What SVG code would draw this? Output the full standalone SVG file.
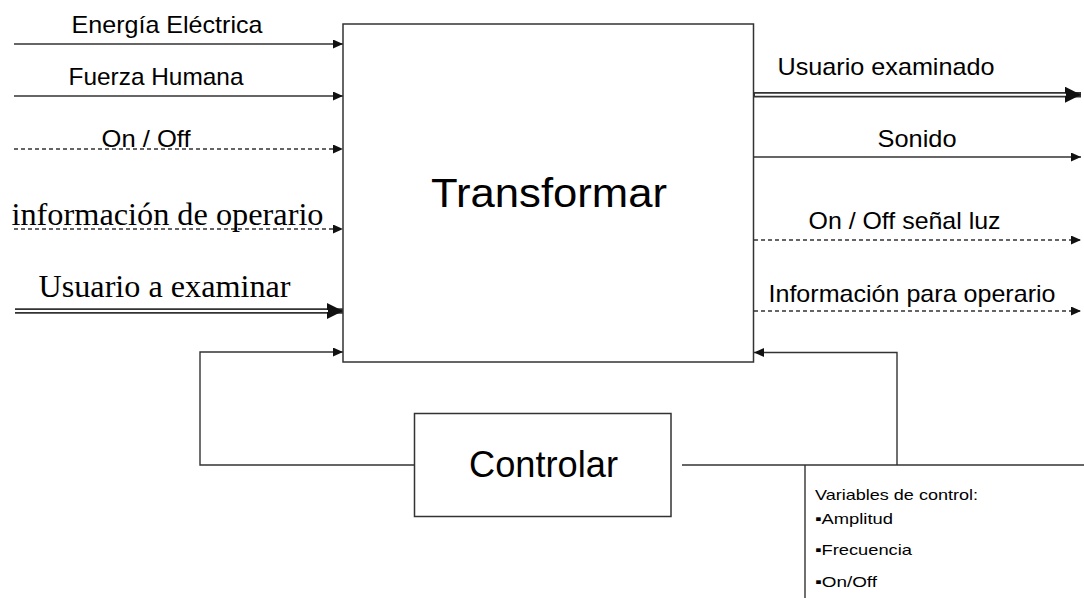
<svg xmlns="http://www.w3.org/2000/svg" width="1084" height="598" viewBox="0 0 1084 598">
<style>
.ln{stroke:#333;stroke-width:1.4;fill:none}
.dash{stroke-dasharray:4 3}
.box{stroke:#333;stroke-width:1.5;fill:#fff}
.sans{font-family:"Liberation Sans",Arial,sans-serif;fill:#000}
.serif{font-family:"Liberation Serif","Times New Roman",serif;fill:#000}
.dbl{stroke:#333;stroke-width:5.4;fill:none}
.dblin{stroke:#fff;stroke-width:2;fill:none}
</style>
<defs>
<marker id="a" markerUnits="userSpaceOnUse" markerWidth="11" markerHeight="10" refX="10" refY="4.5" orient="auto"><path d="M0,0 L10,4.5 L0,9 z" fill="#111"/></marker>
<marker id="A" markerUnits="userSpaceOnUse" markerWidth="17" markerHeight="17" refX="16" refY="8" orient="auto"><path d="M0,0 L16,8 L0,16 z" fill="#111"/></marker>
</defs>
<rect width="1084" height="598" fill="#fff"/>
<g id="connectors">
<line class="ln" x1="14" y1="44" x2="343" y2="44" marker-end="url(#a)"/>
<line class="ln" x1="14" y1="96" x2="343" y2="96" marker-end="url(#a)"/>
<line class="ln dash" x1="14" y1="149" x2="343" y2="149" marker-end="url(#a)"/>
<line class="ln dash" x1="14" y1="229" x2="343" y2="229" marker-end="url(#a)"/>
<line class="dbl" x1="15" y1="311" x2="343" y2="311" marker-end="url(#A)"/>
<line class="dblin" x1="14" y1="311" x2="328" y2="311"/>
<line class="dbl" x1="754" y1="94.7" x2="1081" y2="94.7" marker-end="url(#A)"/>
<line class="dblin" x1="755" y1="94.7" x2="1066" y2="94.7"/>
<line class="ln" x1="754" y1="157" x2="1081" y2="157" marker-end="url(#a)"/>
<line class="ln dash" x1="754" y1="240" x2="1081" y2="240" marker-end="url(#a)"/>
<line class="ln dash" x1="754" y1="311" x2="1081" y2="311" marker-end="url(#a)"/>
<path class="ln" d="M414,465 H200 V352 H343" marker-end="url(#a)"/>
<path class="ln" d="M682,465 H1084"/>
<path class="ln" d="M897,465 V352.5 H754" marker-end="url(#a)"/>
<line class="ln" x1="805" y1="465" x2="805" y2="598"/>
</g>
<g id="labels">
<text class="sans" x="71.5" y="33" font-size="24" textLength="191" lengthAdjust="spacingAndGlyphs">Energía Eléctrica</text>
<text class="sans" x="68.5" y="85" font-size="24" textLength="175" lengthAdjust="spacingAndGlyphs">Fuerza Humana</text>
<text class="sans" x="101.5" y="147" font-size="24" textLength="89" lengthAdjust="spacingAndGlyphs">On / Off</text>
<text class="serif" x="11.5" y="225" font-size="31" textLength="312" lengthAdjust="spacingAndGlyphs">información de operario</text>
<text class="serif" x="38.5" y="297" font-size="31" textLength="252" lengthAdjust="spacingAndGlyphs">Usuario a examinar</text>
<text class="sans" x="777.5" y="75" font-size="24" textLength="217" lengthAdjust="spacingAndGlyphs">Usuario examinado</text>
<text class="sans" x="877.5" y="147" font-size="24" textLength="79" lengthAdjust="spacingAndGlyphs">Sonido</text>
<text class="sans" x="808.5" y="228.5" font-size="24" textLength="192" lengthAdjust="spacingAndGlyphs">On / Off señal luz</text>
<text class="sans" x="768.5" y="301.5" font-size="24" textLength="287" lengthAdjust="spacingAndGlyphs">Información para operario</text>
</g>
<g id="transformar">
<rect class="box" x="343" y="24" width="410.5" height="338"/>
<text class="sans" x="431" y="206.5" font-size="40" textLength="236" lengthAdjust="spacingAndGlyphs">Transformar</text>
</g>
<g id="controlar">
<rect class="box" x="414.5" y="413.5" width="256.5" height="103"/>
<text class="sans" x="469" y="477" font-size="36" textLength="149" lengthAdjust="spacingAndGlyphs">Controlar</text>
</g>
<g id="variables">
<text class="sans" x="815" y="499.5" font-size="15" textLength="163" lengthAdjust="spacingAndGlyphs">Variables de control:</text>
<text class="sans" x="815" y="523.5" font-size="15" textLength="78" lengthAdjust="spacingAndGlyphs">▪Amplitud</text>
<text class="sans" x="815" y="555" font-size="15" textLength="97" lengthAdjust="spacingAndGlyphs">▪Frecuencia</text>
<text class="sans" x="815" y="587" font-size="15" textLength="62" lengthAdjust="spacingAndGlyphs">▪On/Off</text>
</g>
</svg>
